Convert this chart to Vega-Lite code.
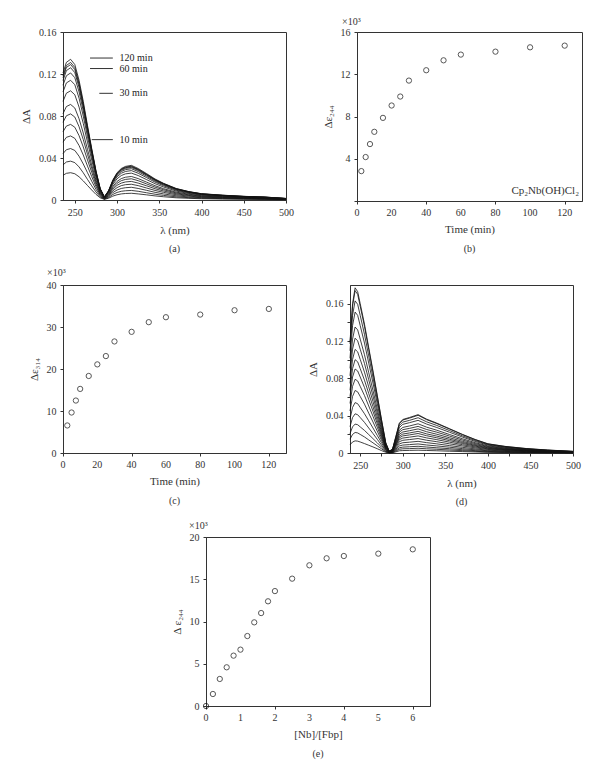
{
"$schema":"https://vega.github.io/schema/vega-lite/v6.json",
"padding":{"left":20,"top":16,"right":5,"bottom":5},
"background":"white",
"config":{
 "font":"Liberation Serif",
 "view":{"stroke":"#333","strokeWidth":1},
 "axis":{"labelFont":"Liberation Serif","titleFont":"Liberation Serif","labelFontSize":10,"titleFontSize":11,"titleFontWeight":"normal","labelColor":"#333","titleColor":"#333","domainColor":"#333","tickColor":"#333","tickSize":3,"grid":false,"labelFlush":false,"labelOverlap":false,"labelSeparation":-60,"labelPadding":4,"titlePadding":7},
 "title":{"font":"Liberation Serif","fontSize":10,"fontWeight":"normal","color":"#333","orient":"bottom","offset":9}
},
"datasets":{
"aLeg":[{"x1":268,"x2":295,"tx":303,"y":0.1352,"t":"120 min"},{"x1":268,"x2":295,"tx":303,"y":0.1252,"t":"60 min"},{"x1":279,"x2":295,"tx":303,"y":0.1016,"t":"30 min"},{"x1":270,"x2":295,"tx":303,"y":0.0575,"t":"10 min"}],
"timeLabels":[{"t":0},{"t":20},{"t":40},{"t":60},{"t":80},{"t":100},{"t":120}],
"ratioLabels":[{"r":0},{"r":1},{"r":2},{"r":3},{"r":4},{"r":5},{"r":6}],
"b":[{"t":2.5,"v":2.83},{"t":5,"v":4.16},{"t":7.5,"v":5.39},{"t":10,"v":6.55},{"t":15,"v":7.87},{"t":20,"v":9.04},{"t":25,"v":9.89},{"t":30,"v":11.4},{"t":40,"v":12.38},{"t":50,"v":13.32},{"t":60,"v":13.86},{"t":80,"v":14.14},{"t":100,"v":14.55},{"t":120,"v":14.71}],
"c":[{"t":2.5,"v":6.56},{"t":5,"v":9.64},{"t":7.5,"v":12.49},{"t":10,"v":15.26},{"t":15,"v":18.34},{"t":20,"v":21.1},{"t":25,"v":23.08},{"t":30,"v":26.56},{"t":40,"v":28.85},{"t":50,"v":31.15},{"t":60,"v":32.33},{"t":80,"v":32.96},{"t":100,"v":33.99},{"t":120,"v":34.3}],
"e":[{"r":0,"v":0},{"r":0.2,"v":1.42},{"r":0.4,"v":3.2},{"r":0.6,"v":4.58},{"r":0.8,"v":5.96},{"r":1.0,"v":6.67},{"r":1.2,"v":8.28},{"r":1.4,"v":9.9},{"r":1.6,"v":11.0},{"r":1.8,"v":12.39},{"r":2.0,"v":13.6},{"r":2.5,"v":15.07},{"r":3.0,"v":16.65},{"r":3.5,"v":17.48},{"r":4.0,"v":17.75},{"r":5.0,"v":18.03},{"r":6.0,"v":18.54}],
"a":[
{"k":1,"x":236,"y":0.0235},{"k":1,"x":240,"y":0.0254},{"k":1,"x":245,"y":0.026},{"k":1,"x":250,"y":0.025},{"k":1,"x":255,"y":0.0221},{"k":1,"x":260,"y":0.0182},{"k":1,"x":265,"y":0.0138},{"k":1,"x":270,"y":0.0095},{"k":1,"x":275,"y":0.0054},{"k":1,"x":280,"y":0.0021},{"k":1,"x":285,"y":0.0006},{"k":1,"x":290,"y":0.0017},{"k":1,"x":295,"y":0.0037},{"k":1,"x":300,"y":0.005},{"k":1,"x":305,"y":0.0058},{"k":1,"x":310,"y":0.0062},{"k":1,"x":317,"y":0.0064},{"k":1,"x":325,"y":0.0058},{"k":1,"x":335,"y":0.0049},{"k":1,"x":345,"y":0.0039},{"k":1,"x":355,"y":0.0031},{"k":1,"x":370,"y":0.0021},{"k":1,"x":385,"y":0.0016},{"k":1,"x":400,"y":0.0012},{"k":1,"x":425,"y":0.0009},{"k":1,"x":450,"y":0.0007},{"k":1,"x":475,"y":0.0005},{"k":1,"x":500,"y":0.0003},
{"k":2,"x":236,"y":0.0334},{"k":2,"x":240,"y":0.0362},{"k":2,"x":245,"y":0.037},{"k":2,"x":250,"y":0.0356},{"k":2,"x":255,"y":0.0315},{"k":2,"x":260,"y":0.0259},{"k":2,"x":265,"y":0.0196},{"k":2,"x":270,"y":0.0135},{"k":2,"x":275,"y":0.0077},{"k":2,"x":280,"y":0.003},{"k":2,"x":285,"y":0.0008},{"k":2,"x":290,"y":0.0025},{"k":2,"x":295,"y":0.0053},{"k":2,"x":300,"y":0.0072},{"k":2,"x":305,"y":0.0083},{"k":2,"x":310,"y":0.0088},{"k":2,"x":317,"y":0.0091},{"k":2,"x":325,"y":0.0083},{"k":2,"x":335,"y":0.0069},{"k":2,"x":345,"y":0.0055},{"k":2,"x":355,"y":0.0044},{"k":2,"x":370,"y":0.003},{"k":2,"x":385,"y":0.0022},{"k":2,"x":400,"y":0.0017},{"k":2,"x":425,"y":0.0013},{"k":2,"x":450,"y":0.001},{"k":2,"x":475,"y":0.0008},{"k":2,"x":500,"y":0.0004},
{"k":3,"x":236,"y":0.0442},{"k":3,"x":240,"y":0.0479},{"k":3,"x":245,"y":0.049},{"k":3,"x":250,"y":0.0472},{"k":3,"x":255,"y":0.0417},{"k":3,"x":260,"y":0.0343},{"k":3,"x":265,"y":0.026},{"k":3,"x":270,"y":0.0179},{"k":3,"x":275,"y":0.0102},{"k":3,"x":280,"y":0.004},{"k":3,"x":285,"y":0.0011},{"k":3,"x":290,"y":0.0033},{"k":3,"x":295,"y":0.007},{"k":3,"x":300,"y":0.0095},{"k":3,"x":305,"y":0.011},{"k":3,"x":310,"y":0.0117},{"k":3,"x":317,"y":0.0121},{"k":3,"x":325,"y":0.011},{"k":3,"x":335,"y":0.0092},{"k":3,"x":345,"y":0.0073},{"k":3,"x":355,"y":0.0058},{"k":3,"x":370,"y":0.004},{"k":3,"x":385,"y":0.0029},{"k":3,"x":400,"y":0.0022},{"k":3,"x":425,"y":0.0017},{"k":3,"x":450,"y":0.0013},{"k":3,"x":475,"y":0.001},{"k":3,"x":500,"y":0.0005},
{"k":4,"x":236,"y":0.0551},{"k":4,"x":240,"y":0.0597},{"k":4,"x":245,"y":0.061},{"k":4,"x":250,"y":0.0587},{"k":4,"x":255,"y":0.0519},{"k":4,"x":260,"y":0.0428},{"k":4,"x":265,"y":0.0323},{"k":4,"x":270,"y":0.0223},{"k":4,"x":275,"y":0.0127},{"k":4,"x":280,"y":0.005},{"k":4,"x":285,"y":0.0013},{"k":4,"x":290,"y":0.0041},{"k":4,"x":295,"y":0.0087},{"k":4,"x":300,"y":0.0118},{"k":4,"x":305,"y":0.0137},{"k":4,"x":310,"y":0.0146},{"k":4,"x":317,"y":0.015},{"k":4,"x":325,"y":0.0137},{"k":4,"x":335,"y":0.0114},{"k":4,"x":345,"y":0.0091},{"k":4,"x":355,"y":0.0073},{"k":4,"x":370,"y":0.005},{"k":4,"x":385,"y":0.0037},{"k":4,"x":400,"y":0.0027},{"k":4,"x":425,"y":0.0021},{"k":4,"x":450,"y":0.0016},{"k":4,"x":475,"y":0.0013},{"k":4,"x":500,"y":0.0007},
{"k":5,"x":236,"y":0.065},{"k":5,"x":240,"y":0.0704},{"k":5,"x":245,"y":0.072},{"k":5,"x":250,"y":0.0693},{"k":5,"x":255,"y":0.0613},{"k":5,"x":260,"y":0.0505},{"k":5,"x":265,"y":0.0382},{"k":5,"x":270,"y":0.0264},{"k":5,"x":275,"y":0.015},{"k":5,"x":280,"y":0.0059},{"k":5,"x":285,"y":0.0016},{"k":5,"x":290,"y":0.0048},{"k":5,"x":295,"y":0.0102},{"k":5,"x":300,"y":0.014},{"k":5,"x":305,"y":0.0161},{"k":5,"x":310,"y":0.0172},{"k":5,"x":317,"y":0.0177},{"k":5,"x":325,"y":0.0161},{"k":5,"x":335,"y":0.0135},{"k":5,"x":345,"y":0.0107},{"k":5,"x":355,"y":0.0086},{"k":5,"x":370,"y":0.0059},{"k":5,"x":385,"y":0.0043},{"k":5,"x":400,"y":0.0032},{"k":5,"x":425,"y":0.0024},{"k":5,"x":450,"y":0.0019},{"k":5,"x":475,"y":0.0015},{"k":5,"x":500,"y":0.0008},
{"k":6,"x":236,"y":0.074},{"k":6,"x":240,"y":0.0802},{"k":6,"x":245,"y":0.082},{"k":6,"x":250,"y":0.079},{"k":6,"x":255,"y":0.0698},{"k":6,"x":260,"y":0.0575},{"k":6,"x":265,"y":0.0435},{"k":6,"x":270,"y":0.03},{"k":6,"x":275,"y":0.0171},{"k":6,"x":280,"y":0.0067},{"k":6,"x":285,"y":0.0018},{"k":6,"x":290,"y":0.0055},{"k":6,"x":295,"y":0.0116},{"k":6,"x":300,"y":0.0159},{"k":6,"x":305,"y":0.0184},{"k":6,"x":310,"y":0.0196},{"k":6,"x":317,"y":0.0202},{"k":6,"x":325,"y":0.0184},{"k":6,"x":335,"y":0.0153},{"k":6,"x":345,"y":0.0122},{"k":6,"x":355,"y":0.0098},{"k":6,"x":370,"y":0.0067},{"k":6,"x":385,"y":0.0049},{"k":6,"x":400,"y":0.0037},{"k":6,"x":425,"y":0.0028},{"k":6,"x":450,"y":0.0021},{"k":6,"x":475,"y":0.0017},{"k":6,"x":500,"y":0.0009},
{"k":7,"x":236,"y":0.0822},{"k":7,"x":240,"y":0.089},{"k":7,"x":245,"y":0.091},{"k":7,"x":250,"y":0.0876},{"k":7,"x":255,"y":0.0774},{"k":7,"x":260,"y":0.0638},{"k":7,"x":265,"y":0.0482},{"k":7,"x":270,"y":0.0333},{"k":7,"x":275,"y":0.019},{"k":7,"x":280,"y":0.0075},{"k":7,"x":285,"y":0.002},{"k":7,"x":290,"y":0.0061},{"k":7,"x":295,"y":0.0129},{"k":7,"x":300,"y":0.0177},{"k":7,"x":305,"y":0.0204},{"k":7,"x":310,"y":0.0217},{"k":7,"x":317,"y":0.0224},{"k":7,"x":325,"y":0.0204},{"k":7,"x":335,"y":0.017},{"k":7,"x":345,"y":0.0136},{"k":7,"x":355,"y":0.0108},{"k":7,"x":370,"y":0.0075},{"k":7,"x":385,"y":0.0055},{"k":7,"x":400,"y":0.0041},{"k":7,"x":425,"y":0.0031},{"k":7,"x":450,"y":0.0024},{"k":7,"x":475,"y":0.0019},{"k":7,"x":500,"y":0.001},
{"k":8,"x":236,"y":0.0939},{"k":8,"x":240,"y":0.1017},{"k":8,"x":245,"y":0.104},{"k":8,"x":250,"y":0.1002},{"k":8,"x":255,"y":0.0885},{"k":8,"x":260,"y":0.0729},{"k":8,"x":265,"y":0.0551},{"k":8,"x":270,"y":0.0381},{"k":8,"x":275,"y":0.0217},{"k":8,"x":280,"y":0.0085},{"k":8,"x":285,"y":0.0023},{"k":8,"x":290,"y":0.007},{"k":8,"x":295,"y":0.0148},{"k":8,"x":300,"y":0.0202},{"k":8,"x":305,"y":0.0233},{"k":8,"x":310,"y":0.0249},{"k":8,"x":317,"y":0.0256},{"k":8,"x":325,"y":0.0233},{"k":8,"x":335,"y":0.0194},{"k":8,"x":345,"y":0.0155},{"k":8,"x":355,"y":0.0124},{"k":8,"x":370,"y":0.0085},{"k":8,"x":385,"y":0.0062},{"k":8,"x":400,"y":0.0047},{"k":8,"x":425,"y":0.0035},{"k":8,"x":450,"y":0.0027},{"k":8,"x":475,"y":0.0022},{"k":8,"x":500,"y":0.0011},
{"k":9,"x":236,"y":0.1029},{"k":9,"x":240,"y":0.1115},{"k":9,"x":245,"y":0.114},{"k":9,"x":250,"y":0.1098},{"k":9,"x":255,"y":0.097},{"k":9,"x":260,"y":0.0799},{"k":9,"x":265,"y":0.0604},{"k":9,"x":270,"y":0.0417},{"k":9,"x":275,"y":0.0238},{"k":9,"x":280,"y":0.0093},{"k":9,"x":285,"y":0.0025},{"k":9,"x":290,"y":0.0076},{"k":9,"x":295,"y":0.0162},{"k":9,"x":300,"y":0.0221},{"k":9,"x":305,"y":0.0255},{"k":9,"x":310,"y":0.0272},{"k":9,"x":317,"y":0.028},{"k":9,"x":325,"y":0.0255},{"k":9,"x":335,"y":0.0213},{"k":9,"x":345,"y":0.017},{"k":9,"x":355,"y":0.0136},{"k":9,"x":370,"y":0.0093},{"k":9,"x":385,"y":0.0068},{"k":9,"x":400,"y":0.0051},{"k":9,"x":425,"y":0.0039},{"k":9,"x":450,"y":0.003},{"k":9,"x":475,"y":0.0024},{"k":9,"x":500,"y":0.0013},
{"k":10,"x":236,"y":0.1093},{"k":10,"x":240,"y":0.1183},{"k":10,"x":245,"y":0.121},{"k":10,"x":250,"y":0.1165},{"k":10,"x":255,"y":0.103},{"k":10,"x":260,"y":0.0848},{"k":10,"x":265,"y":0.0641},{"k":10,"x":270,"y":0.0443},{"k":10,"x":275,"y":0.0253},{"k":10,"x":280,"y":0.0099},{"k":10,"x":285,"y":0.0027},{"k":10,"x":290,"y":0.0081},{"k":10,"x":295,"y":0.0172},{"k":10,"x":300,"y":0.0235},{"k":10,"x":305,"y":0.0271},{"k":10,"x":310,"y":0.0289},{"k":10,"x":317,"y":0.0298},{"k":10,"x":325,"y":0.0271},{"k":10,"x":335,"y":0.0226},{"k":10,"x":345,"y":0.018},{"k":10,"x":355,"y":0.0144},{"k":10,"x":370,"y":0.0099},{"k":10,"x":385,"y":0.0073},{"k":10,"x":400,"y":0.0054},{"k":10,"x":425,"y":0.0041},{"k":10,"x":450,"y":0.0031},{"k":10,"x":475,"y":0.0025},{"k":10,"x":500,"y":0.0013},
{"k":11,"x":236,"y":0.1138},{"k":11,"x":240,"y":0.1232},{"k":11,"x":245,"y":0.126},{"k":11,"x":250,"y":0.1213},{"k":11,"x":255,"y":0.1072},{"k":11,"x":260,"y":0.0883},{"k":11,"x":265,"y":0.0668},{"k":11,"x":270,"y":0.0461},{"k":11,"x":275,"y":0.0263},{"k":11,"x":280,"y":0.0103},{"k":11,"x":285,"y":0.0028},{"k":11,"x":290,"y":0.0084},{"k":11,"x":295,"y":0.0179},{"k":11,"x":300,"y":0.0244},{"k":11,"x":305,"y":0.0282},{"k":11,"x":310,"y":0.0301},{"k":11,"x":317,"y":0.031},{"k":11,"x":325,"y":0.0282},{"k":11,"x":335,"y":0.0236},{"k":11,"x":345,"y":0.0188},{"k":11,"x":355,"y":0.015},{"k":11,"x":370,"y":0.0103},{"k":11,"x":385,"y":0.0076},{"k":11,"x":400,"y":0.0057},{"k":11,"x":425,"y":0.0043},{"k":11,"x":450,"y":0.0033},{"k":11,"x":475,"y":0.0026},{"k":11,"x":500,"y":0.0014},
{"k":12,"x":236,"y":0.1165},{"k":12,"x":240,"y":0.1262},{"k":12,"x":245,"y":0.129},{"k":12,"x":250,"y":0.1242},{"k":12,"x":255,"y":0.1098},{"k":12,"x":260,"y":0.0904},{"k":12,"x":265,"y":0.0684},{"k":12,"x":270,"y":0.0472},{"k":12,"x":275,"y":0.027},{"k":12,"x":280,"y":0.0106},{"k":12,"x":285,"y":0.0028},{"k":12,"x":290,"y":0.0086},{"k":12,"x":295,"y":0.0183},{"k":12,"x":300,"y":0.025},{"k":12,"x":305,"y":0.0289},{"k":12,"x":310,"y":0.0308},{"k":12,"x":317,"y":0.0317},{"k":12,"x":325,"y":0.0289},{"k":12,"x":335,"y":0.0241},{"k":12,"x":345,"y":0.0192},{"k":12,"x":355,"y":0.0154},{"k":12,"x":370,"y":0.0106},{"k":12,"x":385,"y":0.0077},{"k":12,"x":400,"y":0.0058},{"k":12,"x":425,"y":0.0044},{"k":12,"x":450,"y":0.0034},{"k":12,"x":475,"y":0.0027},{"k":12,"x":500,"y":0.0014},
{"k":13,"x":236,"y":0.1183},{"k":13,"x":240,"y":0.1281},{"k":13,"x":245,"y":0.131},{"k":13,"x":250,"y":0.1262},{"k":13,"x":255,"y":0.1115},{"k":13,"x":260,"y":0.0918},{"k":13,"x":265,"y":0.0694},{"k":13,"x":270,"y":0.0479},{"k":13,"x":275,"y":0.0274},{"k":13,"x":280,"y":0.0107},{"k":13,"x":285,"y":0.0029},{"k":13,"x":290,"y":0.0088},{"k":13,"x":295,"y":0.0186},{"k":13,"x":300,"y":0.0254},{"k":13,"x":305,"y":0.0293},{"k":13,"x":310,"y":0.0313},{"k":13,"x":317,"y":0.0322},{"k":13,"x":325,"y":0.0293},{"k":13,"x":335,"y":0.0245},{"k":13,"x":345,"y":0.0195},{"k":13,"x":355,"y":0.0156},{"k":13,"x":370,"y":0.0107},{"k":13,"x":385,"y":0.0079},{"k":13,"x":400,"y":0.0059},{"k":13,"x":425,"y":0.0045},{"k":13,"x":450,"y":0.0034},{"k":13,"x":475,"y":0.0028},{"k":13,"x":500,"y":0.0014},
{"k":14,"x":236,"y":0.121},{"k":14,"x":240,"y":0.1311},{"k":14,"x":245,"y":0.134},{"k":14,"x":250,"y":0.129},{"k":14,"x":255,"y":0.114},{"k":14,"x":260,"y":0.0939},{"k":14,"x":265,"y":0.071},{"k":14,"x":270,"y":0.049},{"k":14,"x":275,"y":0.028},{"k":14,"x":280,"y":0.011},{"k":14,"x":285,"y":0.0029},{"k":14,"x":290,"y":0.009},{"k":14,"x":295,"y":0.019},{"k":14,"x":300,"y":0.026},{"k":14,"x":305,"y":0.03},{"k":14,"x":310,"y":0.032},{"k":14,"x":317,"y":0.033},{"k":14,"x":325,"y":0.03},{"k":14,"x":335,"y":0.0251},{"k":14,"x":345,"y":0.02},{"k":14,"x":355,"y":0.0159},{"k":14,"x":370,"y":0.011},{"k":14,"x":385,"y":0.008},{"k":14,"x":400,"y":0.006},{"k":14,"x":425,"y":0.0046},{"k":14,"x":450,"y":0.0035},{"k":14,"x":475,"y":0.0028},{"k":14,"x":500,"y":0.0015}
],
"d":[
{"k":1,"x":238,"y":0.0087},{"k":1,"x":241,"y":0.0118},{"k":1,"x":244,"y":0.013},{"k":1,"x":247,"y":0.0127},{"k":1,"x":250,"y":0.0118},{"k":1,"x":255,"y":0.0101},{"k":1,"x":260,"y":0.0083},{"k":1,"x":265,"y":0.0065},{"k":1,"x":270,"y":0.0046},{"k":1,"x":275,"y":0.0026},{"k":1,"x":280,"y":0.0008},{"k":1,"x":284,"y":0.0001},{"k":1,"x":288,"y":0.0003},{"k":1,"x":292,"y":0.0013},{"k":1,"x":296,"y":0.0024},{"k":1,"x":300,"y":0.0026},{"k":1,"x":308,"y":0.0028},{"k":1,"x":318,"y":0.003},{"k":1,"x":328,"y":0.0027},{"k":1,"x":340,"y":0.0024},{"k":1,"x":355,"y":0.0019},{"k":1,"x":370,"y":0.0015},{"k":1,"x":385,"y":0.0011},{"k":1,"x":400,"y":0.0007},{"k":1,"x":420,"y":0.0005},{"k":1,"x":445,"y":0.0004},{"k":1,"x":470,"y":0.0002},{"k":1,"x":500,"y":0.0001},
{"k":2,"x":238,"y":0.0148},{"k":2,"x":241,"y":0.0199},{"k":2,"x":244,"y":0.022},{"k":2,"x":247,"y":0.0215},{"k":2,"x":250,"y":0.0199},{"k":2,"x":255,"y":0.0172},{"k":2,"x":260,"y":0.014},{"k":2,"x":265,"y":0.0109},{"k":2,"x":270,"y":0.0077},{"k":2,"x":275,"y":0.0045},{"k":2,"x":280,"y":0.0014},{"k":2,"x":284,"y":0.0002},{"k":2,"x":288,"y":0.0005},{"k":2,"x":292,"y":0.0022},{"k":2,"x":296,"y":0.004},{"k":2,"x":300,"y":0.0045},{"k":2,"x":308,"y":0.0047},{"k":2,"x":318,"y":0.0051},{"k":2,"x":328,"y":0.0045},{"k":2,"x":340,"y":0.004},{"k":2,"x":355,"y":0.0032},{"k":2,"x":370,"y":0.0025},{"k":2,"x":385,"y":0.0018},{"k":2,"x":400,"y":0.0012},{"k":2,"x":420,"y":0.0009},{"k":2,"x":445,"y":0.0006},{"k":2,"x":470,"y":0.0004},{"k":2,"x":500,"y":0.0002},
{"k":3,"x":238,"y":0.0208},{"k":3,"x":241,"y":0.028},{"k":3,"x":244,"y":0.031},{"k":3,"x":247,"y":0.0303},{"k":3,"x":250,"y":0.028},{"k":3,"x":255,"y":0.0242},{"k":3,"x":260,"y":0.0198},{"k":3,"x":265,"y":0.0154},{"k":3,"x":270,"y":0.0109},{"k":3,"x":275,"y":0.0063},{"k":3,"x":280,"y":0.0019},{"k":3,"x":284,"y":0.0003},{"k":3,"x":288,"y":0.0007},{"k":3,"x":292,"y":0.0032},{"k":3,"x":296,"y":0.0056},{"k":3,"x":300,"y":0.0063},{"k":3,"x":308,"y":0.0067},{"k":3,"x":318,"y":0.0072},{"k":3,"x":328,"y":0.0064},{"k":3,"x":340,"y":0.0056},{"k":3,"x":355,"y":0.0046},{"k":3,"x":370,"y":0.0035},{"k":3,"x":385,"y":0.0025},{"k":3,"x":400,"y":0.0017},{"k":3,"x":420,"y":0.0012},{"k":3,"x":445,"y":0.0008},{"k":3,"x":470,"y":0.0006},{"k":3,"x":500,"y":0.0003},
{"k":4,"x":238,"y":0.0282},{"k":4,"x":241,"y":0.038},{"k":4,"x":244,"y":0.042},{"k":4,"x":247,"y":0.041},{"k":4,"x":250,"y":0.038},{"k":4,"x":255,"y":0.0328},{"k":4,"x":260,"y":0.0268},{"k":4,"x":265,"y":0.0209},{"k":4,"x":270,"y":0.0147},{"k":4,"x":275,"y":0.0085},{"k":4,"x":280,"y":0.0026},{"k":4,"x":284,"y":0.0005},{"k":4,"x":288,"y":0.001},{"k":4,"x":292,"y":0.0043},{"k":4,"x":296,"y":0.0076},{"k":4,"x":300,"y":0.0085},{"k":4,"x":308,"y":0.009},{"k":4,"x":318,"y":0.0097},{"k":4,"x":328,"y":0.0086},{"k":4,"x":340,"y":0.0076},{"k":4,"x":355,"y":0.0062},{"k":4,"x":370,"y":0.0047},{"k":4,"x":385,"y":0.0034},{"k":4,"x":400,"y":0.0024},{"k":4,"x":420,"y":0.0017},{"k":4,"x":445,"y":0.0011},{"k":4,"x":470,"y":0.0008},{"k":4,"x":500,"y":0.0004},
{"k":5,"x":238,"y":0.0363},{"k":5,"x":241,"y":0.0488},{"k":5,"x":244,"y":0.054},{"k":5,"x":247,"y":0.0528},{"k":5,"x":250,"y":0.0488},{"k":5,"x":255,"y":0.0421},{"k":5,"x":260,"y":0.0345},{"k":5,"x":265,"y":0.0268},{"k":5,"x":270,"y":0.0189},{"k":5,"x":275,"y":0.011},{"k":5,"x":280,"y":0.0033},{"k":5,"x":284,"y":0.0006},{"k":5,"x":288,"y":0.0012},{"k":5,"x":292,"y":0.0055},{"k":5,"x":296,"y":0.0098},{"k":5,"x":300,"y":0.011},{"k":5,"x":308,"y":0.0116},{"k":5,"x":318,"y":0.0125},{"k":5,"x":328,"y":0.0111},{"k":5,"x":340,"y":0.0098},{"k":5,"x":355,"y":0.0079},{"k":5,"x":370,"y":0.0061},{"k":5,"x":385,"y":0.0044},{"k":5,"x":400,"y":0.003},{"k":5,"x":420,"y":0.0022},{"k":5,"x":445,"y":0.0015},{"k":5,"x":470,"y":0.001},{"k":5,"x":500,"y":0.0005},
{"k":6,"x":238,"y":0.045},{"k":6,"x":241,"y":0.0606},{"k":6,"x":244,"y":0.067},{"k":6,"x":247,"y":0.0655},{"k":6,"x":250,"y":0.0606},{"k":6,"x":255,"y":0.0523},{"k":6,"x":260,"y":0.0427},{"k":6,"x":265,"y":0.0333},{"k":6,"x":270,"y":0.0235},{"k":6,"x":275,"y":0.0136},{"k":6,"x":280,"y":0.0042},{"k":6,"x":284,"y":0.0007},{"k":6,"x":288,"y":0.0015},{"k":6,"x":292,"y":0.0068},{"k":6,"x":296,"y":0.0121},{"k":6,"x":300,"y":0.0136},{"k":6,"x":308,"y":0.0144},{"k":6,"x":318,"y":0.0155},{"k":6,"x":328,"y":0.0137},{"k":6,"x":340,"y":0.0121},{"k":6,"x":355,"y":0.0098},{"k":6,"x":370,"y":0.0076},{"k":6,"x":385,"y":0.0055},{"k":6,"x":400,"y":0.0038},{"k":6,"x":420,"y":0.0027},{"k":6,"x":445,"y":0.0018},{"k":6,"x":470,"y":0.0012},{"k":6,"x":500,"y":0.0007},
{"k":7,"x":238,"y":0.0531},{"k":7,"x":241,"y":0.0714},{"k":7,"x":244,"y":0.079},{"k":7,"x":247,"y":0.0772},{"k":7,"x":250,"y":0.0714},{"k":7,"x":255,"y":0.0616},{"k":7,"x":260,"y":0.0504},{"k":7,"x":265,"y":0.0393},{"k":7,"x":270,"y":0.0277},{"k":7,"x":275,"y":0.016},{"k":7,"x":280,"y":0.0049},{"k":7,"x":284,"y":0.0009},{"k":7,"x":288,"y":0.0018},{"k":7,"x":292,"y":0.0081},{"k":7,"x":296,"y":0.0143},{"k":7,"x":300,"y":0.016},{"k":7,"x":308,"y":0.017},{"k":7,"x":318,"y":0.0183},{"k":7,"x":328,"y":0.0162},{"k":7,"x":340,"y":0.0143},{"k":7,"x":355,"y":0.0116},{"k":7,"x":370,"y":0.0089},{"k":7,"x":385,"y":0.0065},{"k":7,"x":400,"y":0.0044},{"k":7,"x":420,"y":0.0032},{"k":7,"x":445,"y":0.0021},{"k":7,"x":470,"y":0.0014},{"k":7,"x":500,"y":0.0008},
{"k":8,"x":238,"y":0.0605},{"k":8,"x":241,"y":0.0814},{"k":8,"x":244,"y":0.09},{"k":8,"x":247,"y":0.0879},{"k":8,"x":250,"y":0.0814},{"k":8,"x":255,"y":0.0702},{"k":8,"x":260,"y":0.0574},{"k":8,"x":265,"y":0.0447},{"k":8,"x":270,"y":0.0315},{"k":8,"x":275,"y":0.0183},{"k":8,"x":280,"y":0.0056},{"k":8,"x":284,"y":0.001},{"k":8,"x":288,"y":0.0021},{"k":8,"x":292,"y":0.0092},{"k":8,"x":296,"y":0.0163},{"k":8,"x":300,"y":0.0183},{"k":8,"x":308,"y":0.0194},{"k":8,"x":318,"y":0.0209},{"k":8,"x":328,"y":0.0185},{"k":8,"x":340,"y":0.0163},{"k":8,"x":355,"y":0.0132},{"k":8,"x":370,"y":0.0102},{"k":8,"x":385,"y":0.0074},{"k":8,"x":400,"y":0.005},{"k":8,"x":420,"y":0.0036},{"k":8,"x":445,"y":0.0024},{"k":8,"x":470,"y":0.0016},{"k":8,"x":500,"y":0.0009},
{"k":9,"x":238,"y":0.0672},{"k":9,"x":241,"y":0.0904},{"k":9,"x":244,"y":0.1},{"k":9,"x":247,"y":0.0977},{"k":9,"x":250,"y":0.0904},{"k":9,"x":255,"y":0.078},{"k":9,"x":260,"y":0.0638},{"k":9,"x":265,"y":0.0497},{"k":9,"x":270,"y":0.035},{"k":9,"x":275,"y":0.0203},{"k":9,"x":280,"y":0.0062},{"k":9,"x":284,"y":0.0011},{"k":9,"x":288,"y":0.0023},{"k":9,"x":292,"y":0.0102},{"k":9,"x":296,"y":0.0181},{"k":9,"x":300,"y":0.0203},{"k":9,"x":308,"y":0.0215},{"k":9,"x":318,"y":0.0232},{"k":9,"x":328,"y":0.0205},{"k":9,"x":340,"y":0.0181},{"k":9,"x":355,"y":0.0147},{"k":9,"x":370,"y":0.0113},{"k":9,"x":385,"y":0.0082},{"k":9,"x":400,"y":0.0056},{"k":9,"x":420,"y":0.004},{"k":9,"x":445,"y":0.0027},{"k":9,"x":470,"y":0.0018},{"k":9,"x":500,"y":0.001},
{"k":10,"x":238,"y":0.0746},{"k":10,"x":241,"y":0.1003},{"k":10,"x":244,"y":0.111},{"k":10,"x":247,"y":0.1084},{"k":10,"x":250,"y":0.1003},{"k":10,"x":255,"y":0.0866},{"k":10,"x":260,"y":0.0708},{"k":10,"x":265,"y":0.0552},{"k":10,"x":270,"y":0.0389},{"k":10,"x":275,"y":0.0225},{"k":10,"x":280,"y":0.0069},{"k":10,"x":284,"y":0.0012},{"k":10,"x":288,"y":0.0026},{"k":10,"x":292,"y":0.0113},{"k":10,"x":296,"y":0.0201},{"k":10,"x":300,"y":0.0225},{"k":10,"x":308,"y":0.0239},{"k":10,"x":318,"y":0.0258},{"k":10,"x":328,"y":0.0228},{"k":10,"x":340,"y":0.0201},{"k":10,"x":355,"y":0.0163},{"k":10,"x":370,"y":0.0125},{"k":10,"x":385,"y":0.0091},{"k":10,"x":400,"y":0.0062},{"k":10,"x":420,"y":0.0044},{"k":10,"x":445,"y":0.003},{"k":10,"x":470,"y":0.002},{"k":10,"x":500,"y":0.0011},
{"k":11,"x":238,"y":0.0827},{"k":11,"x":241,"y":0.1112},{"k":11,"x":244,"y":0.123},{"k":11,"x":247,"y":0.1202},{"k":11,"x":250,"y":0.1112},{"k":11,"x":255,"y":0.0959},{"k":11,"x":260,"y":0.0785},{"k":11,"x":265,"y":0.0611},{"k":11,"x":270,"y":0.0431},{"k":11,"x":275,"y":0.025},{"k":11,"x":280,"y":0.0076},{"k":11,"x":284,"y":0.0014},{"k":11,"x":288,"y":0.0028},{"k":11,"x":292,"y":0.0125},{"k":11,"x":296,"y":0.0223},{"k":11,"x":300,"y":0.025},{"k":11,"x":308,"y":0.0264},{"k":11,"x":318,"y":0.0285},{"k":11,"x":328,"y":0.0252},{"k":11,"x":340,"y":0.0223},{"k":11,"x":355,"y":0.0181},{"k":11,"x":370,"y":0.0139},{"k":11,"x":385,"y":0.0101},{"k":11,"x":400,"y":0.0069},{"k":11,"x":420,"y":0.0049},{"k":11,"x":445,"y":0.0033},{"k":11,"x":470,"y":0.0022},{"k":11,"x":500,"y":0.0012},
{"k":12,"x":238,"y":0.0907},{"k":12,"x":241,"y":0.122},{"k":12,"x":244,"y":0.135},{"k":12,"x":247,"y":0.1319},{"k":12,"x":250,"y":0.122},{"k":12,"x":255,"y":0.1053},{"k":12,"x":260,"y":0.0861},{"k":12,"x":265,"y":0.0671},{"k":12,"x":270,"y":0.0473},{"k":12,"x":275,"y":0.0274},{"k":12,"x":280,"y":0.0084},{"k":12,"x":284,"y":0.0015},{"k":12,"x":288,"y":0.0031},{"k":12,"x":292,"y":0.0138},{"k":12,"x":296,"y":0.0244},{"k":12,"x":300,"y":0.0274},{"k":12,"x":308,"y":0.029},{"k":12,"x":318,"y":0.0313},{"k":12,"x":328,"y":0.0277},{"k":12,"x":340,"y":0.0244},{"k":12,"x":355,"y":0.0198},{"k":12,"x":370,"y":0.0153},{"k":12,"x":385,"y":0.0111},{"k":12,"x":400,"y":0.0076},{"k":12,"x":420,"y":0.0054},{"k":12,"x":445,"y":0.0036},{"k":12,"x":470,"y":0.0024},{"k":12,"x":500,"y":0.0014},
{"k":13,"x":238,"y":0.1015},{"k":13,"x":241,"y":0.1365},{"k":13,"x":244,"y":0.151},{"k":13,"x":247,"y":0.1475},{"k":13,"x":250,"y":0.1365},{"k":13,"x":255,"y":0.1178},{"k":13,"x":260,"y":0.0963},{"k":13,"x":265,"y":0.075},{"k":13,"x":270,"y":0.0529},{"k":13,"x":275,"y":0.0307},{"k":13,"x":280,"y":0.0094},{"k":13,"x":284,"y":0.0017},{"k":13,"x":288,"y":0.0035},{"k":13,"x":292,"y":0.0154},{"k":13,"x":296,"y":0.0273},{"k":13,"x":300,"y":0.0307},{"k":13,"x":308,"y":0.0325},{"k":13,"x":318,"y":0.035},{"k":13,"x":328,"y":0.031},{"k":13,"x":340,"y":0.0273},{"k":13,"x":355,"y":0.0222},{"k":13,"x":370,"y":0.0171},{"k":13,"x":385,"y":0.0124},{"k":13,"x":400,"y":0.0085},{"k":13,"x":420,"y":0.006},{"k":13,"x":445,"y":0.0041},{"k":13,"x":470,"y":0.0027},{"k":13,"x":500,"y":0.0015},
{"k":14,"x":238,"y":0.1095},{"k":14,"x":241,"y":0.1474},{"k":14,"x":244,"y":0.163},{"k":14,"x":247,"y":0.1593},{"k":14,"x":250,"y":0.1474},{"k":14,"x":255,"y":0.1271},{"k":14,"x":260,"y":0.104},{"k":14,"x":265,"y":0.081},{"k":14,"x":270,"y":0.0571},{"k":14,"x":275,"y":0.0331},{"k":14,"x":280,"y":0.0101},{"k":14,"x":284,"y":0.0018},{"k":14,"x":288,"y":0.0037},{"k":14,"x":292,"y":0.0166},{"k":14,"x":296,"y":0.0295},{"k":14,"x":300,"y":0.0331},{"k":14,"x":308,"y":0.035},{"k":14,"x":318,"y":0.0378},{"k":14,"x":328,"y":0.0334},{"k":14,"x":340,"y":0.0295},{"k":14,"x":355,"y":0.024},{"k":14,"x":370,"y":0.0184},{"k":14,"x":385,"y":0.0134},{"k":14,"x":400,"y":0.0091},{"k":14,"x":420,"y":0.0065},{"k":14,"x":445,"y":0.0044},{"k":14,"x":470,"y":0.0029},{"k":14,"x":500,"y":0.0016},
{"k":15,"x":238,"y":0.1169},{"k":15,"x":241,"y":0.1573},{"k":15,"x":244,"y":0.174},{"k":15,"x":247,"y":0.17},{"k":15,"x":250,"y":0.1573},{"k":15,"x":255,"y":0.1357},{"k":15,"x":260,"y":0.111},{"k":15,"x":265,"y":0.0865},{"k":15,"x":270,"y":0.0609},{"k":15,"x":275,"y":0.0353},{"k":15,"x":280,"y":0.0108},{"k":15,"x":284,"y":0.0019},{"k":15,"x":288,"y":0.004},{"k":15,"x":292,"y":0.0177},{"k":15,"x":296,"y":0.0315},{"k":15,"x":300,"y":0.0353},{"k":15,"x":308,"y":0.0374},{"k":15,"x":318,"y":0.0404},{"k":15,"x":328,"y":0.0357},{"k":15,"x":340,"y":0.0315},{"k":15,"x":355,"y":0.0256},{"k":15,"x":370,"y":0.0197},{"k":15,"x":385,"y":0.0143},{"k":15,"x":400,"y":0.0097},{"k":15,"x":420,"y":0.007},{"k":15,"x":445,"y":0.0047},{"k":15,"x":470,"y":0.0031},{"k":15,"x":500,"y":0.0017},
{"k":16,"x":238,"y":0.1189},{"k":16,"x":241,"y":0.16},{"k":16,"x":244,"y":0.177},{"k":16,"x":247,"y":0.1729},{"k":16,"x":250,"y":0.16},{"k":16,"x":255,"y":0.1381},{"k":16,"x":260,"y":0.1129},{"k":16,"x":265,"y":0.088},{"k":16,"x":270,"y":0.062},{"k":16,"x":275,"y":0.0359},{"k":16,"x":280,"y":0.011},{"k":16,"x":284,"y":0.0019},{"k":16,"x":288,"y":0.0041},{"k":16,"x":292,"y":0.0181},{"k":16,"x":296,"y":0.032},{"k":16,"x":300,"y":0.0359},{"k":16,"x":308,"y":0.0381},{"k":16,"x":318,"y":0.0411},{"k":16,"x":328,"y":0.0363},{"k":16,"x":340,"y":0.032},{"k":16,"x":355,"y":0.026},{"k":16,"x":370,"y":0.02},{"k":16,"x":385,"y":0.0145},{"k":16,"x":400,"y":0.0099},{"k":16,"x":420,"y":0.0071},{"k":16,"x":445,"y":0.0048},{"k":16,"x":470,"y":0.0032},{"k":16,"x":500,"y":0.0018}
]
},
"vconcat":[
 {"hconcat":[
  {"width":223,"height":168,"title":{"text":"(a)"},
   "layer":[
    {"data":{"name":"a"},"mark":{"type":"line","color":"#111","strokeWidth":0.8},
     "encoding":{
      "x":{"field":"x","type":"quantitative","scale":{"domain":[236,500],"nice":false,"zero":false},"axis":{"title":"λ (nm)","labelOverlap":false,"values":[250,275,300,325,350,375,400,425,450,475,500],"labelExpr":"datum.value % 50 == 0 ? datum.label : ''"}},
      "y":{"field":"y","type":"quantitative","scale":{"domain":[0,0.16],"nice":false},"axis":{"title":"ΔA","labelOverlap":false,"values":[0,0.02,0.04,0.06,0.08,0.1,0.12,0.14,0.16],"labelExpr":"round(datum.value*100) % 4 == 0 ? (datum.value == 0 ? '0' : format(datum.value, '.2f')) : ''"}},
      "detail":{"field":"k"}}},
    {"data":{"name":"aLeg"},"mark":{"type":"rule","color":"#333","strokeWidth":1},
     "encoding":{"x":{"field":"x1","type":"quantitative"},"x2":{"field":"x2"},"y":{"field":"y","type":"quantitative"}}},
    {"data":{"name":"aLeg"},"mark":{"type":"text","align":"left","baseline":"middle","fontSize":10,"font":"Liberation Serif","color":"#222"},
     "encoding":{"x":{"field":"tx","type":"quantitative"},"y":{"field":"y","type":"quantitative"},"text":{"field":"t"}}}
   ]},
  {"width":225,"height":169,"title":{"text":"(b)"},
   "layer":[
    {"data":{"name":"b"},"mark":{"type":"point","shape":"circle","filled":false,"color":"#111","size":28,"strokeWidth":1},
     "encoding":{
      "x":{"field":"t","type":"quantitative","scale":{"domain":[0,130],"nice":false},"axis":{"title":"Time (min)","labels":false,"titlePadding":19,"values":[0,10,20,30,40,50,60,70,80,90,100,110,120]}},
      "y":{"field":"v","type":"quantitative","scale":{"domain":[0,16],"nice":false},"axis":{"title":"Δε₂₄₄","labelOverlap":false,"values":[0,2,4,6,8,10,12,14,16],"labelExpr":"datum.value % 4 == 0 && datum.value > 0 ? datum.label : ''"}}}},
    {"data":{"name":"timeLabels"},"mark":{"type":"text","align":"center","baseline":"top","dy":7,"fontSize":10,"font":"Liberation Serif","color":"#333"},
     "encoding":{"x":{"field":"t","type":"quantitative"},"y":{"datum":0,"type":"quantitative"},"text":{"field":"t","type":"quantitative"}}},
    {"data":{"values":[{}]},"mark":{"type":"text","align":"left","baseline":"middle","dx":-15,"dy":-10,"fontSize":10,"font":"Liberation Serif","color":"#333"},
     "encoding":{"x":{"datum":0,"type":"quantitative"},"y":{"datum":16,"type":"quantitative"},"text":{"value":"×10³"}}},
    {"data":{"values":[{}]},"mark":{"type":"text","align":"right","baseline":"middle","dx":-3,"fontSize":11,"font":"Liberation Serif","color":"#333"},
     "encoding":{"x":{"datum":130,"type":"quantitative"},"y":{"datum":0.9,"type":"quantitative"},"text":{"value":"Cp₂Nb(OH)Cl₂"}}}
   ]}
 ],"spacing":27},
 {"hconcat":[
  {"width":223,"height":168,"title":{"text":"(c)"},
   "layer":[
    {"data":{"name":"c"},"mark":{"type":"point","shape":"circle","filled":false,"color":"#111","size":28,"strokeWidth":1},
     "encoding":{
      "x":{"field":"t","type":"quantitative","scale":{"domain":[0,130],"nice":false},"axis":{"title":"Time (min)","labels":false,"titlePadding":19,"values":[0,10,20,30,40,50,60,70,80,90,100,110,120]}},
      "y":{"field":"v","type":"quantitative","scale":{"domain":[0,40],"nice":false},"axis":{"title":"Δε₃₁₄","labelOverlap":false,"values":[0,5,10,15,20,25,30,35,40],"labelExpr":"datum.value % 10 == 0 ? datum.label : ''"}}}},
    {"data":{"name":"timeLabels"},"mark":{"type":"text","align":"center","baseline":"top","dy":7,"fontSize":10,"font":"Liberation Serif","color":"#333"},
     "encoding":{"x":{"field":"t","type":"quantitative"},"y":{"datum":0,"type":"quantitative"},"text":{"field":"t","type":"quantitative"}}},
    {"data":{"values":[{}]},"mark":{"type":"text","align":"left","baseline":"middle","dx":-16,"dy":-12,"fontSize":10,"font":"Liberation Serif","color":"#333"},
     "encoding":{"x":{"datum":0,"type":"quantitative"},"y":{"datum":40,"type":"quantitative"},"text":{"value":"×10³"}}}
   ]},
  {"width":223,"height":168,"title":{"text":"(d)"},
   "layer":[
    {"data":{"name":"d"},"mark":{"type":"line","color":"#111","strokeWidth":0.8},
     "encoding":{
      "x":{"field":"x","type":"quantitative","scale":{"domain":[238,500],"nice":false,"zero":false},"axis":{"title":"λ (nm)","labelOverlap":false,"values":[250,275,300,325,350,375,400,425,450,475,500],"labelExpr":"datum.value % 50 == 0 ? datum.label : ''"}},
      "y":{"field":"y","type":"quantitative","scale":{"domain":[0,0.18],"nice":false},"axis":{"title":"ΔA","labelOverlap":false,"values":[0,0.02,0.04,0.06,0.08,0.1,0.12,0.14,0.16],"labelExpr":"round(datum.value*100) % 4 == 0 ? (datum.value == 0 ? '0' : format(datum.value, '.2f')) : ''"}},
      "detail":{"field":"k"}}}
   ]}
 ],"spacing":20},
 {"hconcat":[
  {"width":107,"height":10,"view":{"stroke":null},"data":{"values":[{}]},"mark":{"type":"point","opacity":0},"encoding":{}},
  {"width":224,"height":169,"title":{"text":"(e)"},
   "layer":[
    {"data":{"name":"e"},"mark":{"type":"point","shape":"circle","filled":false,"color":"#111","size":28,"strokeWidth":1},
     "encoding":{
      "x":{"field":"r","type":"quantitative","scale":{"domain":[0,6.5],"nice":false},"axis":{"title":"[Nb]/[Fbp]","labels":false,"titlePadding":19,"values":[0,0.5,1,1.5,2,2.5,3,3.5,4,4.5,5,5.5,6]}},
      "y":{"field":"v","type":"quantitative","scale":{"domain":[0,20],"nice":false},"axis":{"title":"Δ ε₂₄₄","labelOverlap":false,"values":[0,2.5,5,7.5,10,12.5,15,17.5,20],"labelExpr":"datum.value % 5 == 0 ? datum.label : ''"}}}},
    {"data":{"name":"ratioLabels"},"mark":{"type":"text","align":"center","baseline":"top","dy":7,"fontSize":10,"font":"Liberation Serif","color":"#333"},
     "encoding":{"x":{"field":"r","type":"quantitative"},"y":{"datum":0,"type":"quantitative"},"text":{"field":"r","type":"quantitative"}}},
    {"data":{"values":[{}]},"mark":{"type":"text","align":"left","baseline":"middle","dx":-17,"dy":-11,"fontSize":10,"font":"Liberation Serif","color":"#333"},
     "encoding":{"x":{"datum":0,"type":"quantitative"},"y":{"datum":20,"type":"quantitative"},"text":{"value":"×10³"}}}
   ]}
 ],"spacing":0}
],
"spacing":12
}
